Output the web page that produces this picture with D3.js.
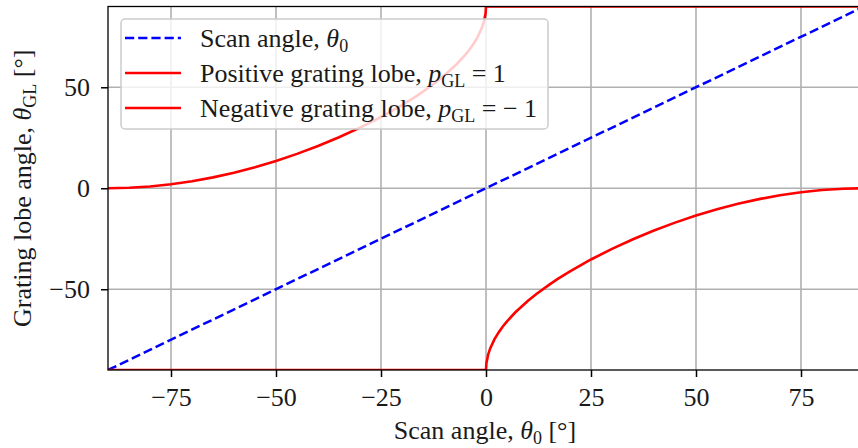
<!DOCTYPE html>
<html><head><meta charset="utf-8">
<script src="https://cdn.jsdelivr.net/npm/d3@7"></script>
<style>
body{margin:0;background:#fff;}
text{font-family:"Liberation Serif","DejaVu Serif",serif;fill:#1a1a1a;}
</style></head>
<body><svg id="c" width="858" height="448"></svg>
<script>
// Data
const scanX = [-90, 90];
const scanY = [-90, 90];
const posX = [-90,-85,-80,-75,-70,-65,-60,-55,-50,-45,-40,-35,-30,-25,-20,-17,-15,-12,-10,-7,-5,-4,-3,-2,-1,-0.5,-0.1,0,90];
const posY = [0,0.22,0.87,1.95,3.46,5.38,7.70,10.42,13.53,17.03,20.93,25.24,30.00,35.27,41.14,45.03,47.83,52.38,55.72,61.42,65.92,68.48,71.38,74.84,79.29,82.43,86.6,90,90];
const negX = [-90,0,0.1,0.5,1,2,3,4,5,7,10,12,15,17,20,25,30,35,40,45,50,55,60,65,70,75,80,85,90];
const negY = [-90,-90,-86.6,-82.43,-79.29,-74.84,-71.38,-68.48,-65.92,-61.42,-55.72,-52.38,-47.83,-45.03,-41.14,-35.27,-30.00,-25.24,-20.93,-17.03,-13.53,-10.42,-7.70,-5.38,-3.46,-1.95,-0.87,-0.22,0];
const xTicks = [-75,-50,-25,0,25,50,75];
const yTicks = [-50,0,50];
const legendLabels = ["Scan angle", "Positive grating lobe", "Negative grating lobe"];

const FS = 26, SUB = 18;
const svg = d3.select("#c");
const L = 108, R = 864, T = 6.5, B = 370;
const x = d3.scaleLinear().domain([-90,90]).range([L,R]);
const y = d3.scaleLinear().domain([-90,90]).range([B,T]);

svg.append("defs").append("clipPath").attr("id","clip")
  .append("rect").attr("x",L).attr("y",T).attr("width",R-L).attr("height",B-T);

// grid
const g = svg.append("g");
g.selectAll(".gx").data(xTicks).enter().append("line")
  .attr("x1",d=>x(d)).attr("x2",d=>x(d)).attr("y1",T).attr("y2",B)
  .attr("stroke","#b0b0b0").attr("stroke-width",1.6);
g.selectAll(".gy").data(yTicks).enter().append("line")
  .attr("y1",d=>y(d)).attr("y2",d=>y(d)).attr("x1",L).attr("x2",R)
  .attr("stroke","#b0b0b0").attr("stroke-width",1.6);

const line = d3.line().x(d=>x(d[0])).y(d=>y(d[1]));
const plot = svg.append("g").attr("clip-path","url(#clip)");
plot.append("path").datum(d3.zip(scanX,scanY)).attr("d",line)
  .attr("fill","none").attr("stroke","#0000ff").attr("stroke-width",2.5).attr("stroke-dasharray","9.2,4");
plot.append("path").datum(d3.zip(posX,posY)).attr("d",line)
  .attr("fill","none").attr("stroke","#ff0000").attr("stroke-width",2.6);
plot.append("path").datum(d3.zip(negX,negY)).attr("d",line)
  .attr("fill","none").attr("stroke","#ff0000").attr("stroke-width",2.6);

// axes
const fmt = d=>d<0?"\u2212"+Math.abs(d):d;
const xAxis = d3.axisBottom(x).tickValues(xTicks).tickSize(7).tickPadding(11).tickFormat(fmt);
const yAxis = d3.axisLeft(y).tickValues(yTicks).tickSize(7).tickPadding(11).tickFormat(fmt);
const ax = svg.append("g").attr("transform",`translate(0,${B})`).call(xAxis);
const ay = svg.append("g").attr("transform",`translate(${L},0)`).call(yAxis);
[ax,ay].forEach(a=>{
  a.select(".domain").remove();
  a.selectAll(".tick line").attr("stroke","#000").attr("stroke-width",1.5);
  a.selectAll(".tick text").style("font-size",FS+"px").attr("fill","#1a1a1a");
});

// spines
svg.append("rect").attr("x",L).attr("y",T).attr("width",R-L).attr("height",B-T)
  .attr("fill","none").attr("stroke","#000").attr("stroke-width",1.3);

// axis labels
const xl = svg.append("text").attr("x",485).attr("y",439).attr("text-anchor","middle").style("font-size",FS+"px");
xl.append("tspan").text("Scan angle, ");
xl.append("tspan").attr("font-style","italic").text("\u03B8");
xl.append("tspan").attr("baseline-shift","-25%").style("font-size",SUB+"px").text("0");
xl.append("tspan").text(" [\u00B0]");

const yl = svg.append("text").attr("transform",`translate(31,${(T+B)/2}) rotate(-90)`).attr("text-anchor","middle").style("font-size",FS+"px");
yl.append("tspan").text("Grating lobe angle, ");
yl.append("tspan").attr("font-style","italic").text("\u03B8");
yl.append("tspan").attr("baseline-shift","-25%").style("font-size",SUB+"px").text("GL");
yl.append("tspan").text(" [\u00B0]");

// legend
const lg = svg.append("g");
lg.append("rect").attr("x",121).attr("y",19).attr("width",427).attr("height",110).attr("rx",4)
  .attr("fill","#fff").attr("fill-opacity",0.8).attr("stroke","#cccccc").attr("stroke-width",1.5);
const rows = [38,73,108];
const cols = ["#0000ff","#ff0000","#ff0000"];
rows.forEach((ry,i)=>{
  const l = lg.append("line").attr("x1",125).attr("x2",181).attr("y1",ry).attr("y2",ry)
    .attr("stroke",cols[i]).attr("stroke-width",2.6);
  if(i===0) l.attr("stroke-dasharray","9.2,4");
  const t = lg.append("text").attr("x",200).attr("y",ry+9).style("font-size",FS+"px");
  t.append("tspan").text(legendLabels[i]+", ");
  if(i===0){
    t.append("tspan").attr("font-style","italic").text("\u03B8");
    t.append("tspan").attr("baseline-shift","-25%").style("font-size",SUB+"px").text("0");
  } else {
    t.append("tspan").attr("font-style","italic").text("p");
    t.append("tspan").attr("baseline-shift","-25%").style("font-size",SUB+"px").text("GL");
    t.append("tspan").text(i===1?" = 1":" = \u2212 1");
  }
});
</script></body></html>
